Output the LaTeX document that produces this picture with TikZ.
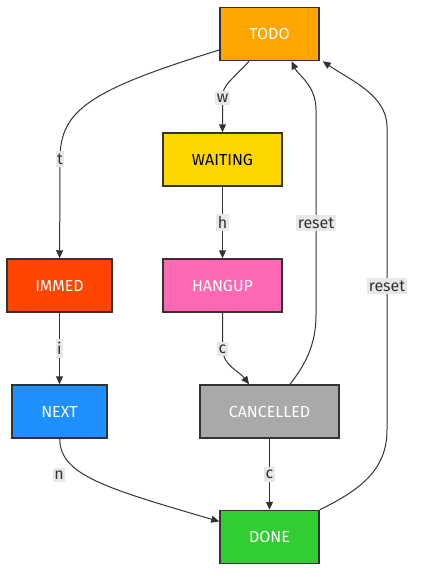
\documentclass[tikz,border=0pt]{standalone}
\usepackage{fontspec}
\setmainfont{Fira Sans}
\usetikzlibrary{arrows.meta}
\definecolor{edgegray}{HTML}{333333}
\definecolor{lblgray}{HTML}{E8E8E8}
\definecolor{todoc}{HTML}{FFA500}
\definecolor{waitc}{HTML}{FFD700}
\definecolor{immedc}{HTML}{FF4500}
\definecolor{hangc}{HTML}{FF69B4}
\definecolor{nextc}{HTML}{1E90FF}
\definecolor{cancc}{HTML}{A9A9A9}
\definecolor{donec}{HTML}{32CD32}
\tikzset{
  state/.style={draw=edgegray, line width=1.5pt, minimum height=53pt,
    inner sep=0pt, font=\fontsize{16}{18}\selectfont, text=white},
  edge/.style={draw=edgegray, line width=1pt,
    -{Triangle[length=8pt,width=7pt]}},
  lbl/.style={fill=lblgray, text=edgegray, inner xsep=1.5pt, inner ysep=3pt,
    font=\fontsize{16}{18}\selectfont}
}

\begin{document}
\begin{tikzpicture}[x=1pt,y=-1pt]
   \useasboundingbox (0,0) rectangle (421,582);
   \node[state, fill=todoc, minimum width=99pt]  (todo) at (269.5,34)  {TODO};
   \node[state, fill=waitc, minimum width=119pt, text=black] (waiting) at (222.5,159.5) {WAITING};
   \node[state, fill=immedc, minimum width=105pt] (immed) at (59.5,285.5) {IMMED};
   \node[state, fill=hangc, minimum width=119pt] (hangup) at (222.5,285.5) {HANGUP};
   \node[state, fill=nextc, minimum width=95pt]  (next) at (59.5,411.5) {NEXT};
   \node[state, fill=cancc, minimum width=139pt] (cancelled) at (269.5,411.5) {CANCELLED};
   \node[state, fill=donec, minimum width=99pt]  (done) at (269.5,537) {DONE};

   \draw[edge] ([yshift=-16pt]todo.west) .. controls (90,90) and (60,110) ..
     (60,159) node[lbl] {t} -- (immed);
   \draw[edge] ([xshift=-20.5pt]todo.south) .. controls (232,80) and (222,85) ..
     (222.5,98) node[lbl] {w} -- (waiting);
   \draw[edge] (waiting) -- node[lbl] {h} (hangup);
   \draw[edge] (immed) -- node[lbl] {i} (next);
   \draw[edge] (hangup) -- (222.5,349) node[lbl] {c} .. controls (222.5,365) and (240,372) ..
     ([xshift=-20.5pt]cancelled.north);
   \draw[edge] ([xshift=20.5pt]cancelled.north) .. controls (305,365) and (316,345) ..
     (316,315) -- (316,223) node[lbl] {reset} -- (316,110) .. controls (316,85) and (298,75) ..
     ([xshift=22pt]todo.south);
   \draw[edge] (done.north east) .. controls (360,490) and (387,470) ..
     (387,430) -- (387,286) node[lbl] {reset} -- (387,127) .. controls (387,95) and (350,80) ..
     ([xshift=3pt]todo.south east);
   \draw[edge] (next) .. controls (60,475) and (105,488) ..
     ([yshift=15.5pt]done.west) node[lbl] at (59,475) {n};
   \draw[edge] (cancelled) -- node[lbl] {c} (done);
\end{tikzpicture}
\end{document}
